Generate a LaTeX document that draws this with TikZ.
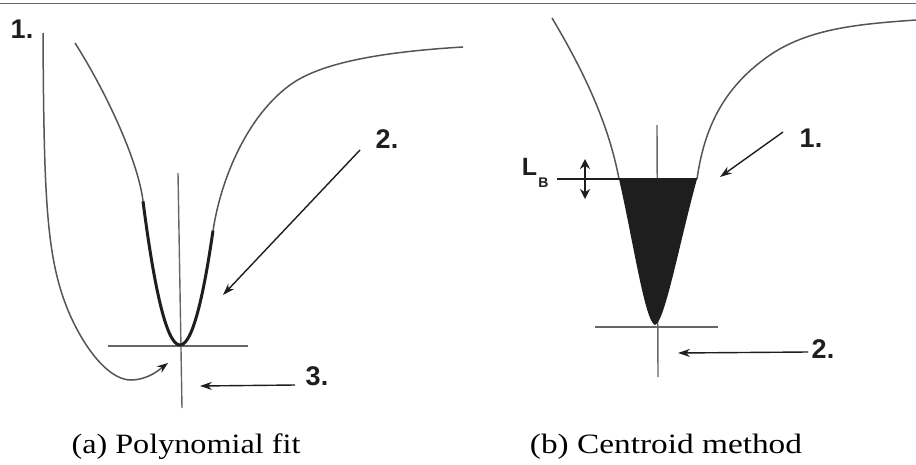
\documentclass[tikz,border=0pt]{standalone}
\usepackage{fontspec}
\setmainfont{Liberation Serif}
\newfontfamily\labfont{Liberation Sans}
\usetikzlibrary{arrows.meta}
\definecolor{curvegray}{HTML}{555555}
\definecolor{axisgray}{HTML}{666666}
\definecolor{inkdark}{HTML}{1E1E1E}
\tikzset{
  thincurve/.style={draw=curvegray, line width=1.5pt},
  thickcurve/.style={draw=inkdark, line width=3pt},
  axisline/.style={draw=axisgray, line width=1.4pt},
  pointer/.style={draw=inkdark, line width=1.4pt, -{Stealth[length=12pt,width=8pt]}},
  numlabel/.style={font=\labfont\bfseries\fontsize{27}{30}\selectfont, text=inkdark, inner sep=0pt, anchor=base},
  caption/.style={font=\fontsize{28}{32}\selectfont, text=black, inner sep=0pt, anchor=base},
}
\begin{document}
\begin{tikzpicture}[x=1pt,y=-1pt]
\useasboundingbox (0,0) rectangle (916,464);
\fill[white] (0,0) rectangle (916,464);
% top rule
\coordinate (topL) at (0,3.5);
\coordinate (topR) at (916,3.5);
\draw[axisline] (topL) -- (topR);

% ===== (a) left panel =====
\coordinate (aVtop) at (178,173);
\coordinate (aVbot) at (182,408);
\coordinate (aHl) at (108,346);
\coordinate (aHr) at (248,346);
\draw[axisline] (aVtop) -- (aVbot);
\draw[axisline] (aHl) -- (aHr);
% curve 1 with arrow
\coordinate (c1s) at (43,33);
\coordinate (c1e) at (168,363);
\draw[thincurve, -{Stealth[length=11pt,width=8pt,color=inkdark]}] (c1s)
  .. controls (44,200) and (46,260) .. (70,315)
  .. controls (88,355) and (112,381) .. (132,380)
  .. controls (150,379) and (160,369) .. (c1e);
% potential curve (thin parts)
\coordinate (pl) at (75,43);
\coordinate (pr) at (463,47);
\draw[thincurve] (pl) .. controls (105,90) and (138,160) .. (143,201);
\draw[thincurve] (213,231) .. controls (220,183) and (245,118) .. (290,85)
  .. controls (320,63) and (380,52) .. (pr);
% polynomial fit (thick)
\draw[thickcurve] plot[smooth, domain=-37:33, samples=40] ({180+\x},{345-0.105*\x*\x});
% labels and pointers
\node[numlabel] (a1) at (22,38) {1.};
\node[numlabel] (a2) at (387,148) {2.};
\node[numlabel] (a3) at (317,385) {3.};
\coordinate (a2s) at (360,150);
\coordinate (a2e) at (223,295);
\draw[pointer] (a2s) -- (a2e);
\coordinate (a3s) at (295,385);
\coordinate (a3e) at (200,386);
\draw[pointer] (a3s) -- (a3e);
\node[caption] (capa) at (186,453) {\scalebox{1.15}[1]{(a) Polynomial fit}};

% ===== (b) right panel =====
\coordinate (bVtop) at (657,125);
\coordinate (bVbot) at (658,377);
\coordinate (bHl) at (595,327);
\coordinate (bHr) at (718,327);
\draw[axisline] (bVtop) -- (bVbot);
\draw[axisline] (bHl) -- (bHr);
\coordinate (ql) at (552,18);
\coordinate (qr) at (916,20);
\draw[thincurve] (ql) .. controls (580,65) and (608,120) .. (619,179);
\draw[thincurve] (697,179) .. controls (704,130) and (722,88) .. (770,55)
  .. controls (810,28) and (860,24) .. (qr);
% filled region
\fill[inkdark] (619,179) .. controls (633,240) and (645,322) .. (655,325)
  .. controls (665,322) and (680,240) .. (697,179) -- cycle;
% L_B level line
\coordinate (lbL) at (557,179);
\coordinate (lbR) at (697,179);
\draw[draw=inkdark, line width=2.4pt] (lbL) -- (lbR);
\coordinate (dbt) at (585,159);
\coordinate (dbb) at (585,199);
\draw[draw=inkdark, line width=2pt, {Stealth[length=10pt,width=10pt]}-{Stealth[length=10pt,width=10pt]}] (dbt) -- (dbb);
\node[font=\labfont\bfseries\fontsize{25}{28}\selectfont, text=inkdark, inner sep=0pt, anchor=base] (lbl) at (529.5,175) {L};
\node[font=\labfont\bfseries\fontsize{14}{16}\selectfont, text=inkdark, inner sep=0pt, anchor=base] (lbs) at (543.5,187.5) {B};
% labels and pointers
\node[numlabel] (b1) at (811,147) {1.};
\node[numlabel] (b2) at (823,358) {2.};
\coordinate (b1s) at (783,132);
\coordinate (b1e) at (720,177);
\draw[pointer] (b1s) -- (b1e);
\coordinate (b2s) at (808,352);
\coordinate (b2e) at (678,353);
\draw[pointer] (b2s) -- (b2e);
\node[caption] (capb) at (666,453) {\scalebox{1.19}[1]{(b) Centroid method}};
\end{tikzpicture}
\end{document}
